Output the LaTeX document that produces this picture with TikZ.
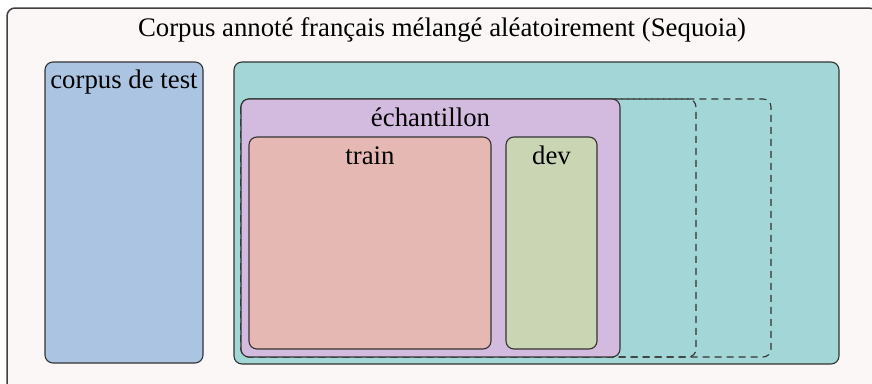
\documentclass[tikz,border=0pt]{standalone}
\usepackage{fontspec}
\setmainfont{Liberation Serif}
\definecolor{bgc}{HTML}{FBF7F6}
\definecolor{testc}{HTML}{AAC4E2}
\definecolor{tealc}{HTML}{A3D6D6}
\definecolor{echc}{HTML}{D3BBDF}
\definecolor{trainc}{HTML}{E6B8B3}
\definecolor{devc}{HTML}{CAD6B3}
\definecolor{linec}{HTML}{333333}
\begin{document}
\begin{tikzpicture}[x=1pt,y=-1pt,
  box/.style={draw=linec, line width=1.1pt, rounded corners=8pt},
  dbox/.style={draw=linec, line width=1.1pt, rounded corners=8pt, dash pattern=on 7pt off 5pt},
  lbl/.style={inner sep=0pt, anchor=base, font=\fontsize{26.8}{30}\selectfont}]
\useasboundingbox (0,0) rectangle (872,383);
\fill[white] (0,0) rectangle (872,383);
\draw[box, fill=bgc, draw=black!75, line width=1.5pt] (7,8) rectangle (877,392);
\node[lbl] (title) at (442,36) {Corpus annoté français mélangé aléatoirement (Sequoia)};
\draw[box, fill=testc] (45,62) rectangle (203,363);
\node[lbl] (test) at (124,88) {corpus de test};
\draw[box, fill=tealc] (234,62) rectangle (839,364);
\draw[dbox] (241,99) rectangle (771,357);
\draw[dbox] (241,99) rectangle (696,357);
\draw[box, fill=echc] (241,99) rectangle (620,357);
\node[lbl] (ech) at (430.5,126) {échantillon};
\draw[box, fill=trainc] (249,137) rectangle (491,349);
\node[lbl] (train) at (370,164) {train};
\draw[box, fill=devc] (506,137) rectangle (597,349);
\node[lbl] (dev) at (551.5,164) {dev};
\end{tikzpicture}
\end{document}
